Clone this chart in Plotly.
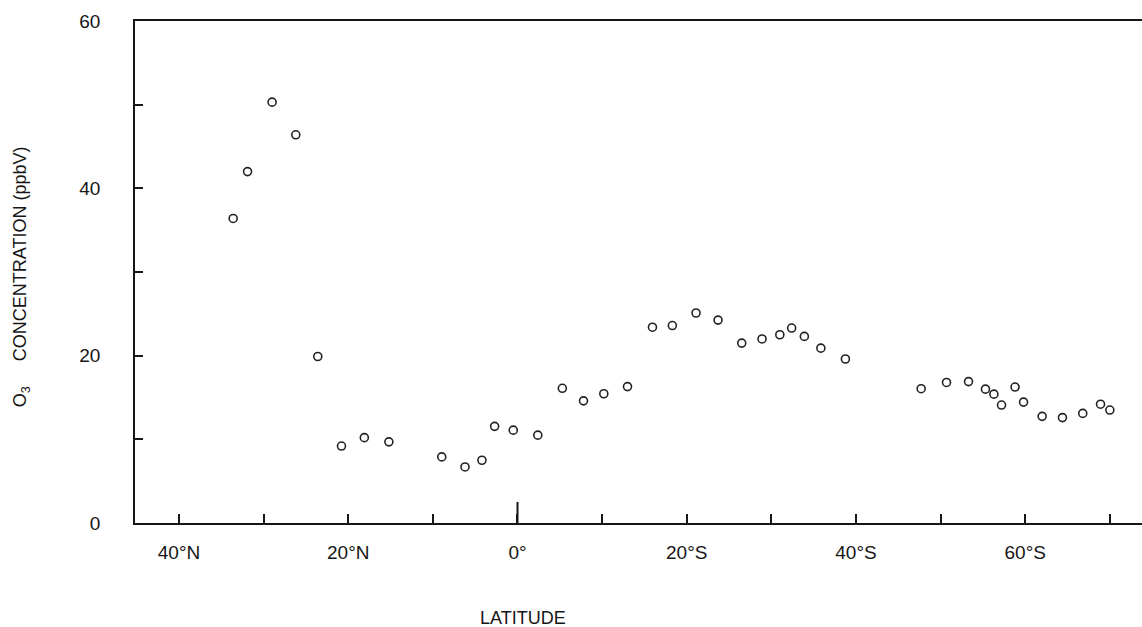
import plotly.graph_objects as go

# Latitude in degrees (north positive, south negative) and surface O3 (ppbV)
latitude = [33.6, 31.9, 29.0, 26.2, 23.6, 20.8, 18.1, 15.2, 8.95, 6.2, 4.2, 2.7, 0.5,
            -2.4, -5.3, -7.8, -10.2, -13.0, -15.95, -18.3, -21.1, -23.7, -26.5, -28.9,
            -31.0, -32.4, -33.9, -35.85, -38.75, -47.7, -50.7, -53.3, -55.3, -56.3,
            -57.2, -58.8, -59.8, -62.0, -64.4, -66.8, -68.9, -70.0]
ozone_ppbv = [36.4, 42.0, 50.3, 46.4, 19.9, 9.2, 10.2, 9.7, 7.9, 6.7, 7.5, 11.55, 11.1,
              10.5, 16.1, 14.6, 15.45, 16.3, 23.4, 23.6, 25.1, 24.25, 21.5, 22.0,
              22.5, 23.3, 22.3, 20.9, 19.6, 16.05, 16.8, 16.9, 16.0, 15.4,
              14.1, 16.25, 14.45, 12.75, 12.6, 13.1, 14.2, 13.5]

x_tick_vals = [40, 30, 20, 10, 0, -10, -20, -30, -40, -50, -60, -70]
x_tick_text = ["40°N", "", "20°N", "", "0°", "", "20°S", "", "40°S", "", "60°S", ""]
y_tick_vals = [0, 10, 20, 30, 40, 50, 60]
y_tick_text = ["0", "", "20", "", "40", "", "60"]

ink = "#161616"
font_family = "Liberation Sans, Arial, sans-serif"

fig = go.Figure()
fig.add_trace(go.Scatter(
    x=latitude, y=ozone_ppbv, mode="markers",
    marker=dict(symbol="circle-open", size=8, color="#222222", line=dict(width=1.6)),
    showlegend=False, hoverinfo="skip",
))

fig.update_layout(
    width=1142, height=627,
    margin=dict(l=135, r=0, t=21, b=104),
    paper_bgcolor="white", plot_bgcolor="white",
    font=dict(family=font_family, color=ink, size=18),
    xaxis=dict(
        range=[45.2, -73.8], showgrid=False, zeroline=False,
        showline=True, linecolor=ink, linewidth=1.5, mirror=True,
        tickmode="array", tickvals=x_tick_vals, ticktext=x_tick_text,
        ticks="inside", ticklen=9, tickwidth=2, tickcolor=ink,
        ticklabelstandoff=11, tickfont=dict(size=19),
    ),
    yaxis=dict(
        range=[0, 60], showgrid=False, zeroline=False,
        showline=True, linecolor=ink, linewidth=1.5,
        tickmode="array", tickvals=y_tick_vals, ticktext=y_tick_text,
        ticks="inside", ticklen=8, tickwidth=2, tickcolor=ink,
        ticklabelstandoff=29, tickfont=dict(size=19),
    ),
)

# Longer tick marking the equator
fig.add_shape(type="line", xref="x", yref="y domain", x0=0, x1=0, y0=0, y1=0.042,
              line=dict(color=ink, width=2))

fig.add_annotation(text="LATITUDE", xref="paper", yref="paper", x=0.385, y=-0.189,
                   showarrow=False, font=dict(size=18, color=ink),
                   xanchor="center", yanchor="middle")
fig.add_annotation(text="O<sub>3</sub>\u00a0\u00a0\u00a0\u00a0\u00a0CONCENTRATION (ppbV)",
                   xref="paper", yref="paper", x=-0.113, y=0.49, textangle=-90,
                   showarrow=False, font=dict(size=18, color=ink),
                   xanchor="center", yanchor="middle")

fig.write_html("out.html")
